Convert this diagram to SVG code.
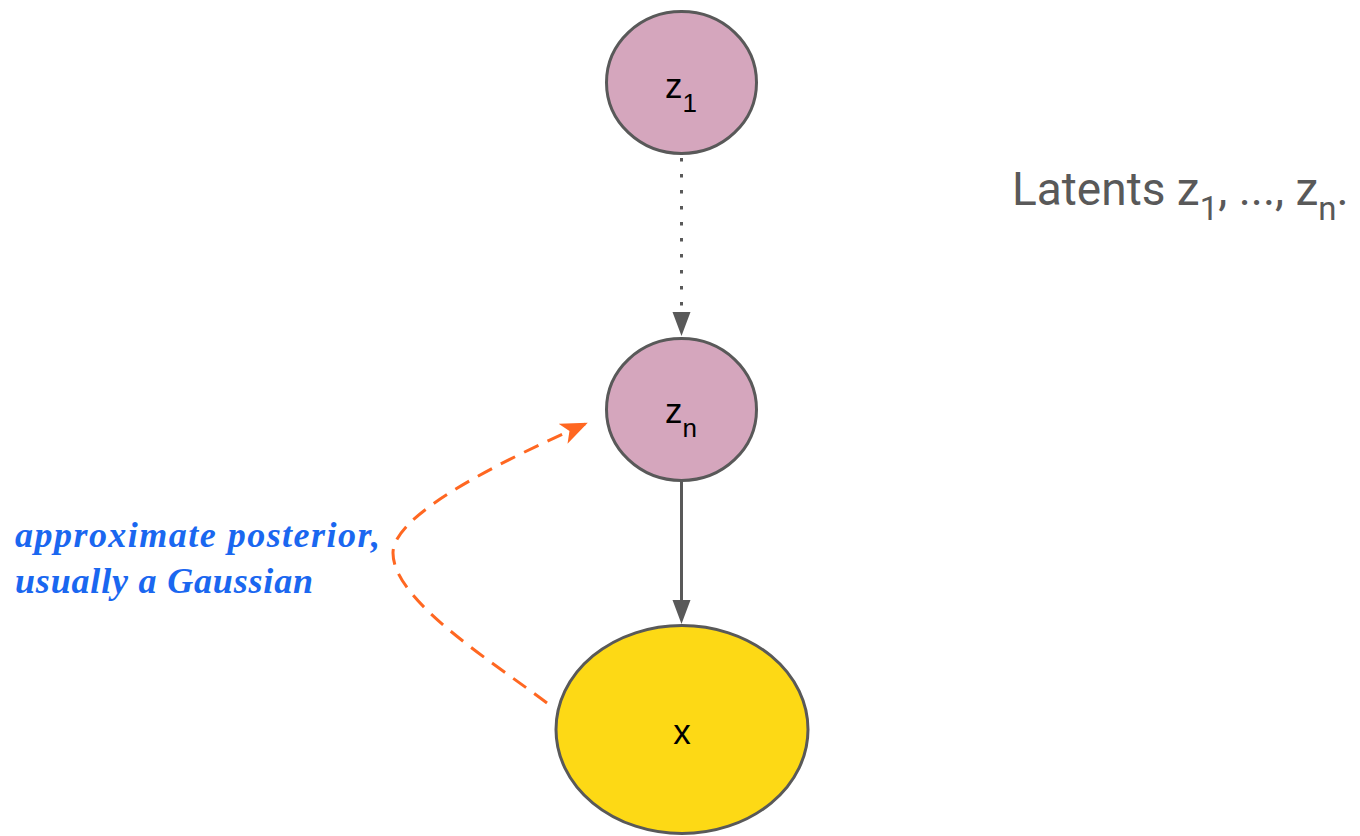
<svg xmlns="http://www.w3.org/2000/svg" width="1360" height="836" viewBox="0 0 1360 836">
  <style>
    .node { stroke: #595959; stroke-width: 3; }
    .latent { fill: #d5a6bd; }
    .obs { fill: #fdd915; }
    .lbl { font-family: "Liberation Sans", Arial, sans-serif; font-size: 35px; fill: #000; }
    .sub { font-size: 26px; }
    .edge { stroke: #595959; stroke-width: 3; fill: none; }
    .head { fill: #595959; }
    .post { stroke: #ff6721; stroke-width: 3; fill: none; stroke-dasharray: 16 10; }
    .note { font-family: "Liberation Serif", "Times New Roman", serif; font-style: italic; font-weight: bold; font-size: 36px; fill: #1a67f0; }
    .caption { font-family: Roboto, "Liberation Sans", sans-serif; font-size: 46px; fill: #595959; }
  </style>
  <defs>
    <marker id="orangeHead" markerUnits="userSpaceOnUse" markerWidth="30" markerHeight="24" refX="24" refY="11" orient="auto" viewBox="0 0 30 22">
      <path d="M0,0 L27,11 L0,22 L7,11 Z" fill="#ff6721"/>
    </marker>
  </defs>

  <g id="connectors">
    <line class="edge" x1="681.5" y1="158" x2="681.5" y2="313" stroke-width="3.5" stroke-dasharray="3.5 12.5"/>
    <polygon class="head" points="672.5,312 690.5,312 681.5,336"/>
    <line class="edge" x1="681.5" y1="482" x2="681.5" y2="601"/>
    <polygon class="head" points="672.5,600 690.5,600 681.5,624"/>
    <path class="post" d="M547,703 C490,660 393,600 393,553 C393,520 470,475 585,424" marker-end="url(#orangeHead)"/>
  </g>

  <g id="node-z1">
    <ellipse class="node latent" cx="681.5" cy="82.5" rx="75" ry="71"/>
    <text class="lbl" x="681" y="98" text-anchor="middle">z<tspan class="sub" dy="14">1</tspan></text>
  </g>

  <g id="node-zn">
    <ellipse class="node latent" cx="681.5" cy="409.5" rx="75" ry="71"/>
    <text class="lbl" x="681" y="423" text-anchor="middle">z<tspan class="sub" dy="14">n</tspan></text>
  </g>

  <g id="node-x">
    <ellipse class="node obs" cx="682" cy="729.5" rx="126" ry="104"/>
    <text class="lbl" x="682" y="744" text-anchor="middle">x</text>
  </g>

  <g id="label-posterior">
    <text class="note" x="15" y="547" textLength="365" lengthAdjust="spacing">approximate posterior,</text>
    <text class="note" x="15" y="593" textLength="298" lengthAdjust="spacing">usually a Gaussian</text>
  </g>

  <g id="caption">
    <text class="caption" x="1012" y="205">Latents z<tspan font-size="33" dy="15">1</tspan><tspan dy="-15">, ..., z</tspan><tspan font-size="33" dy="15">n</tspan><tspan dy="-15">.</tspan></text>
  </g>
</svg>
